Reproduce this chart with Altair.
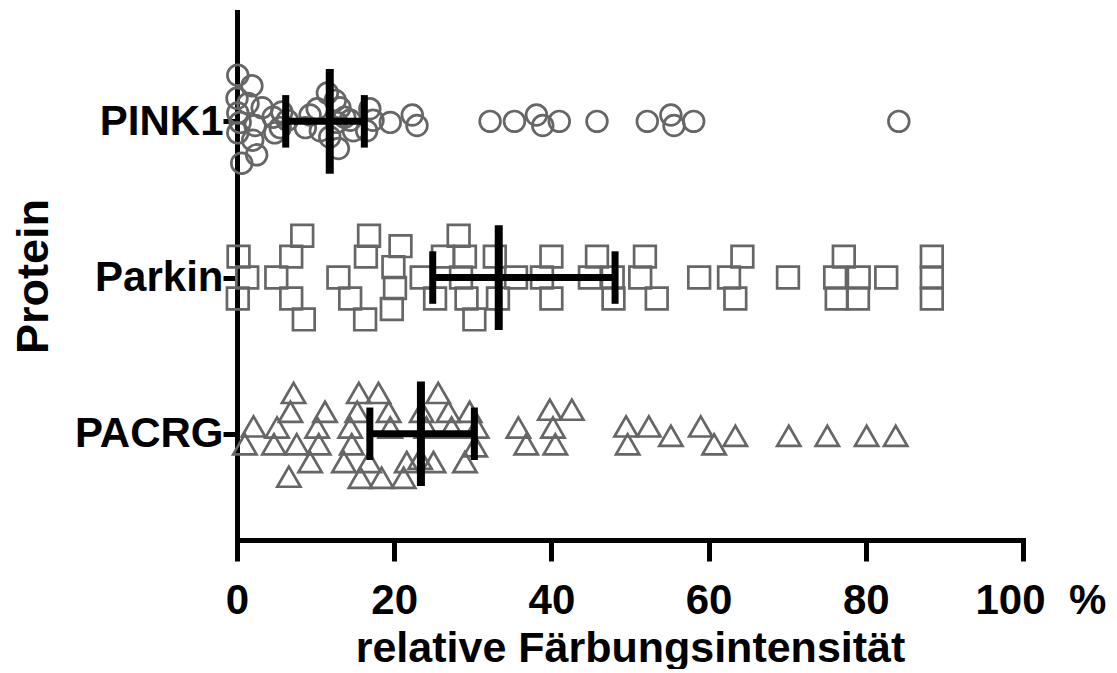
import altair as alt
import pandas as pd

proteins = ["PINK1", "Parkin", "PACRG"]
row_positions = [3, 2, 1]
shapes = ["circle", "square", "triangle-up"]
marker_sizes = [430, 470, 540]

pink1_values = [0.1, 1.9, 0.0, 1.4, 3.2, 0.1, 0.4, 2.3, 0.1, 2.0, 2.5, 0.6,
                4.6, 5.7, 5.5, 6.4, 4.8,
                9.3, 8.7, 10.2, 11.5, 12.5, 10.6, 11.8, 12.9, 12.7, 13.7, 13.1, 14.4, 14.8,
                16.9, 16.5, 17.3, 19.5, 22.3, 22.9,
                32.2, 35.3, 38.1, 38.9, 41.0, 45.8, 52.2, 55.2, 55.6, 58.1, 84.2]
pink1_lanes = [-2.2, -1.7, -1.1, -0.85, -0.65, -0.4, 0.05, 0.2, 0.55, 0.9, 1.6, 2.0,
               -0.2, -0.45, 0.3, -0.05, 0.55,
               -0.3, 0.3, -0.6, -1.35, -1.0, 0.45, 0.75, 1.3, 0.05, -0.2, -0.65, -0.05, 0.45,
               -0.6, 0.45, -0.05, 0.05, -0.3, 0.2,
               0, 0, -0.3, 0.2, 0, 0, 0, -0.3, 0.2, 0, 0]

parkin_values = [0.2, 1.3, 0.1,
                 8.3, 6.9, 5.0, 6.9, 8.5,
                 12.9, 14.4, 16.3, 16.8, 16.4,
                 20.8, 19.9, 20.1, 19.7,
                 23.5,
                 28.2, 26.2, 29.0, 28.5, 25.2, 29.2, 30.2,
                 32.8, 35.5, 33.2,
                 40.0, 38.8, 40.0,
                 44.9, 45.8, 47.8, 47.9,
                 51.9, 51.3, 53.4, 58.8, 64.3, 62.6, 63.4, 70.1, 77.2, 76.1, 79.1, 76.3, 79.0,
                 82.6, 88.4, 88.4, 88.4]
parkin_lanes = [-1, 0, 1,
                -2, -1, 0, 1, 2,
                0, 1, 2, -2, -1,
                -1.5, -0.5, 0.5, 1.5,
                0,
                -2, -1, -1, 0, 1, 1, 2,
                -1, 0, 1,
                -1, 0, 1,
                0, -1, 0, 1,
                -1, 0, 1, 0, -1, 0, 1, 0, -1, 0, 0, 1, 1,
                0, -1, 0, 1]

pacrg_values = [2.1, 1.0, 7.2, 6.8, 5.1, 4.7, 7.6, 6.6, 9.3, 11.2, 10.2, 10.4,
                15.5, 18.0, 15.3, 14.4, 14.6, 13.6, 16.8, 15.7, 18.4, 21.2, 19.3, 19.5, 21.6,
                25.6, 23.5, 26.9, 29.6, 27.3, 24.1, 30.5, 30.3, 25.0, 29.0, 23.3,
                35.8, 36.8, 39.8, 42.6, 40.2, 40.5,
                49.5, 49.7, 52.4, 55.2, 59.0, 60.7, 63.4, 70.2, 75.1, 80.1, 83.8]
pacrg_lanes = [-0.35, 0.5, -1.95, -1.05, -0.3, 0.5, 0.5, 2.05, 1.35, -1.05, -0.3, 0.5,
               -1.95, -1.95, -1.05, -0.3, 0.5, 1.35, 1.35, 2.1, 2.1, 2.1, -1.05, -0.3, 1.35,
               -1.95, -1.05, -1.05, -1.05, -0.3, -0.3, -0.3, 0.6, 1.35, 1.35, 1.2,
               -0.3, 0.5, -1.15, -1.15, -0.3, 0.5,
               -0.35, 0.5, -0.35, 0.1, -0.35, 0.5, 0.1, 0.1, 0.1, 0.1, 0.1]

medians = [11.8, 33.3, 23.4]
q1_values = [6.2, 24.9, 16.9]
q3_values = [16.2, 48.1, 30.2]

x_ticks = [0, 20, 40, 60, 80, 100]
x_title = "relative Färbungsintensität"
y_title = "Protein"

LANE = 0.134  # vertical spread of one swarm lane, in row units

rows = []
for name, pos, vals, lanes in [
    ("PINK1", 3, pink1_values, pink1_lanes),
    ("Parkin", 2, parkin_values, parkin_lanes),
    ("PACRG", 1, pacrg_values, pacrg_lanes),
]:
    for v, l in zip(vals, lanes):
        rows.append({"protein": name, "pos": pos, "value": v, "lane": l})
points = pd.DataFrame(rows)

summary = pd.DataFrame({
    "protein": proteins, "pos": row_positions,
    "median": medians, "q1": q1_values, "q3": q3_values,
})

FONT = "Liberation Sans"
label_expr = " : ".join(
    [f"datum.value == {p} ? '{n}'" for n, p in zip(proteins, row_positions)]
) + " : ''"

x_scale = alt.Scale(domain=[0, 100], nice=False, zero=False)
y_scale = alt.Scale(domain=[0.32, 3.70], nice=False, zero=False)

x_axis = alt.Axis(
    values=x_ticks, title=x_title, grid=False,
    labelExpr="datum.value == 100 ? '100\u00a0\u00a0%' : datum.label",
    labelAlign={"condition": {"test": "datum.value == 100", "value": "left"}, "value": "center"},
    labelOffset={"condition": {"test": "datum.value == 100", "value": -48}, "value": 0},
    tickSize=21, tickWidth=5, domainWidth=5, labelPadding=19,
    labelFontSize=42, titleFontSize=43, titlePadding=6,
    labelFlush=False, labelOverlap=False,
)
y_axis = alt.Axis(
    values=row_positions, title=y_title, grid=False, labelExpr=label_expr,
    tickSize=14, tickWidth=5, domainWidth=5, labelPadding=0,
    labelFontSize=42, titleFontSize=45, titlePadding=18,
    labelOverlap=False,
)

base = alt.Chart(points).transform_calculate(
    ypos=f"datum.pos - datum.lane * {LANE}"
)

point_layers = []
for name, shp, sz in zip(proteins, shapes, marker_sizes):
    point_layers.append(
        base.transform_filter(alt.datum.protein == name).mark_point(
            shape=shp, size=sz, filled=False, strokeWidth=2.7,
            color="#666666", opacity=1,
        ).encode(
            x=alt.X("value:Q", scale=x_scale, axis=x_axis),
            y=alt.Y("ypos:Q", scale=y_scale, axis=y_axis),
        )
    )

sbase = alt.Chart(summary)
hbar = sbase.mark_rule(color="black", strokeWidth=7).encode(
    x=alt.X("q1:Q", scale=x_scale), x2="q3:Q",
    y=alt.Y("pos:Q", scale=y_scale),
)
med = sbase.transform_calculate(
    y1="datum.pos - 0.335", y2="datum.pos + 0.335"
).mark_rule(color="black", strokeWidth=8).encode(
    x=alt.X("median:Q", scale=x_scale),
    y=alt.Y("y1:Q", scale=y_scale), y2="y2:Q",
)
quart = sbase.transform_fold(["q1", "q3"], as_=["kind", "qv"]).transform_calculate(
    y1="datum.pos - 0.168", y2="datum.pos + 0.168"
).mark_rule(color="black", strokeWidth=7).encode(
    x=alt.X("qv:Q", scale=x_scale),
    y=alt.Y("y1:Q", scale=y_scale), y2="y2:Q",
)

chart = alt.layer(*point_layers, hbar, med, quart).properties(
    width=786, height=528,
    autosize=alt.AutoSizeParams(type="none"),
    padding={"left": 229, "top": 4, "right": 86, "bottom": 129},
).configure_view(stroke=None).configure_axis(
    labelFont=FONT, titleFont=FONT, labelFontWeight="bold", titleFontWeight="bold",
    labelColor="black", titleColor="black", domainColor="black", tickColor="black",
    domainCap="square",
)

chart.save("out.html", embed_options={"renderer": "svg", "actions": False})
